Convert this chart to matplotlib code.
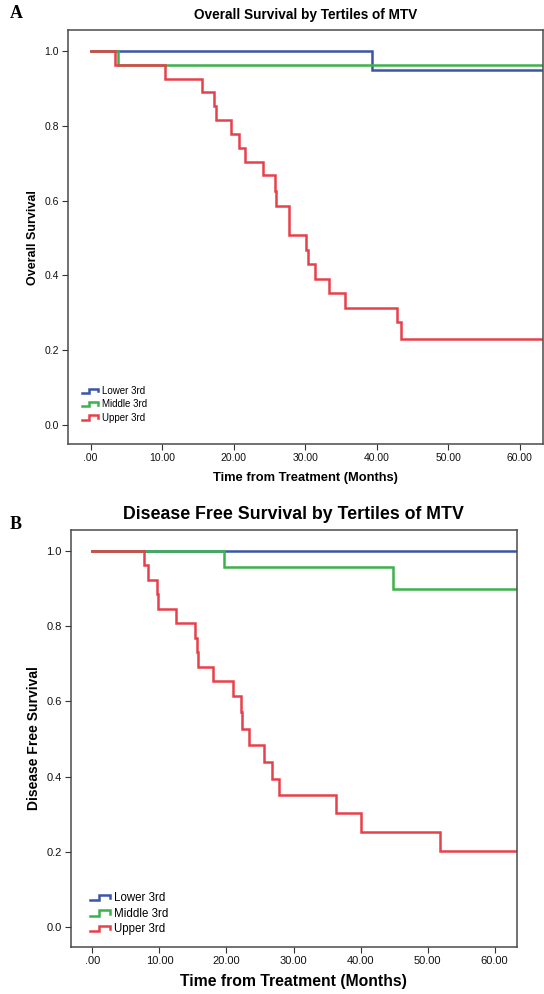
import matplotlib
matplotlib.use("Agg")
import matplotlib.pyplot as plt
from matplotlib.lines import Line2D
from matplotlib.legend_handler import HandlerBase

# ---- data ----
groups = ["Lower 3rd", "Middle 3rd", "Upper 3rd"]
colors = ["#3b55a8", "#3cb34a", "#e8404a"]

# Panel A: overall survival, step times (months) and survival after each step
os_lower_t = [0, 39.4, 63.3]
os_lower_s = [1.0, 0.950, 0.950]
os_middle_t = [0, 3.8, 63.3]
os_middle_s = [1.0, 0.963, 0.963]
os_upper_t = [0, 3.4, 10.4, 15.6, 17.2, 17.5, 19.7, 20.7, 21.65, 24.1, 25.8,
              26.0, 27.8, 30.1, 30.4, 31.4, 33.4, 35.6, 42.9, 43.4, 63.3]
os_upper_s = [1.0, 0.963, 0.926, 0.889, 0.852, 0.815, 0.778, 0.741, 0.704,
              0.667, 0.626, 0.586, 0.507, 0.468, 0.429, 0.390, 0.352, 0.313,
              0.275, 0.229, 0.229]

# Panel B: disease free survival
dfs_lower_t = [0, 63.2]
dfs_lower_s = [1.0, 1.0]
dfs_middle_t = [0, 19.6, 44.9, 63.2]
dfs_middle_s = [1.0, 0.958, 0.898, 0.898]
dfs_upper_t = [0, 7.7, 8.3, 9.6, 9.8, 12.5, 15.3, 15.6, 15.75, 17.95, 21.0,
               22.1, 22.3, 23.3, 25.6, 26.8, 27.8, 36.3, 40.1, 51.8, 63.2]
dfs_upper_s = [1.0, 0.962, 0.923, 0.885, 0.846, 0.808, 0.769, 0.731, 0.692,
               0.654, 0.615, 0.571, 0.527, 0.483, 0.440, 0.395, 0.352, 0.303,
               0.253, 0.202, 0.202]

x_ticks = [0, 10, 20, 30, 40, 50, 60]
x_ticklabels = [".00", "10.00", "20.00", "30.00", "40.00", "50.00", "60.00"]
y_ticks = [0.0, 0.2, 0.4, 0.6, 0.8, 1.0]


class StepHandler(HandlerBase):
    # little step icon like the SPSS legend
    def create_artists(self, legend, orig_handle, xdescent, ydescent,
                       width, height, fontsize, trans):
        x0 = -xdescent
        y0 = -ydescent
        xs = [x0, x0 + 0.45 * width, x0 + 0.45 * width, x0 + width, x0 + width]
        ys = [y0 + 0.15 * height, y0 + 0.15 * height, y0 + 0.8 * height,
              y0 + 0.8 * height, y0 + 0.4 * height]
        line = Line2D(xs, ys, color=orig_handle.get_color(),
                      lw=orig_handle.get_linewidth(), solid_joinstyle="miter")
        line.set_transform(trans)
        return [line]


def km_panel(ax, curves, title, ylabel, title_size, xlab_size, ylab_size,
             tick_size, leg_size, leg_anchor, leg_space):
    handles = []
    for (t, s), name, c in zip(curves, groups, colors):
        h, = ax.step(t, s, where="post", color=c, lw=1.8, label=name,
                     solid_joinstyle="miter")
        handles.append(h)
    ax.set_xlim(-3.2, 63.3)
    ax.set_ylim(-0.052, 1.056)
    ax.set_xticks(x_ticks)
    ax.set_xticklabels(x_ticklabels)
    ax.set_yticks(y_ticks)
    ax.set_yticklabels(["%.1f" % v for v in y_ticks])
    ax.tick_params(direction="out", length=4.5, width=0.8, color="#333333",
                   labelsize=tick_size, labelcolor="#111111", pad=2)
    for sp in ax.spines.values():
        sp.set_color("#4a4a4a")
        sp.set_linewidth(1.1)
    ax.set_title(title, fontsize=title_size, fontweight="bold", pad=8)
    ax.set_ylabel(ylabel, fontsize=ylab_size, fontweight="bold", labelpad=4)
    ax.set_xlabel("Time from Treatment (Months)", fontsize=xlab_size,
                  fontweight="bold", labelpad=6)
    ax.legend(handles=handles, loc="lower left", bbox_to_anchor=leg_anchor,
              frameon=False, fontsize=leg_size, handlelength=1.7,
              handletextpad=0.4, labelspacing=leg_space, borderpad=0.2,
              handler_map={Line2D: StepHandler()})


plt.rcParams["font.family"] = ["Liberation Sans", "DejaVu Sans"]
fig = plt.figure(figsize=(5.44, 9.94), dpi=100)

ax1 = fig.add_axes([0.1245, 0.553, 0.874, 0.4168])
km_panel(ax1,
         [(os_lower_t, os_lower_s), (os_middle_t, os_middle_s), (os_upper_t, os_upper_s)],
         "Overall Survival by Tertiles of MTV", "Overall Survival",
         9.8, 9.3, 9, 7.5, 7, (0.015, 0.036), 0.33)

ax2 = fig.add_axes([0.1305, 0.0476, 0.8193, 0.4192])
km_panel(ax2,
         [(dfs_lower_t, dfs_lower_s), (dfs_middle_t, dfs_middle_s), (dfs_upper_t, dfs_upper_s)],
         "Disease Free Survival by Tertiles of MTV", "Disease Free Survival",
         12.8, 11.3, 10, 8, 8.3, (0.025, 0.008), 0.3)

fig.text(0.018, 0.986, "A", family="Liberation Serif", fontweight="bold",
         fontsize=13, va="center", ha="left")
fig.text(0.018, 0.472, "B", family="Liberation Serif", fontweight="bold",
         fontsize=13, va="center", ha="left")

fig.savefig("out.png", dpi=100)
